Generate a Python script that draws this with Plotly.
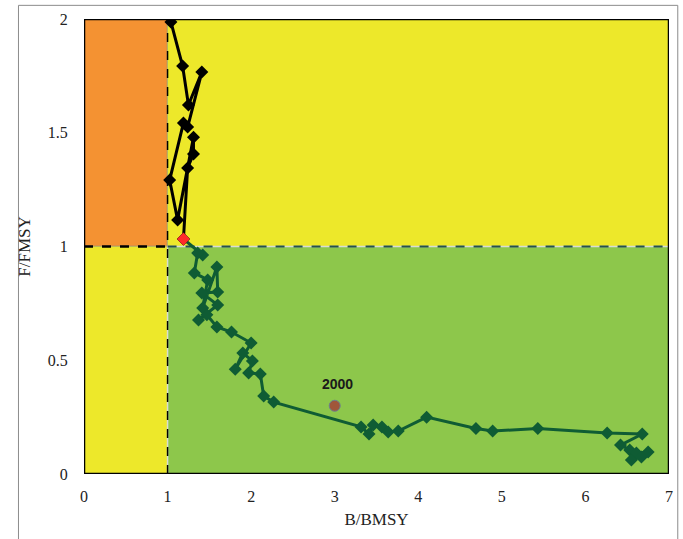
import plotly.graph_objects as go

# Trajectory above F/FMSY = 1 (black)
black_b = [1.04, 1.18, 1.25, 1.41, 1.24, 1.19, 1.025, 1.12, 1.31, 1.31, 1.24, 1.19]
black_f = [1.987, 1.793, 1.622, 1.767, 1.525, 1.543, 1.292, 1.117, 1.48, 1.407, 1.345, 1.033]

# Trajectory below F/FMSY = 1 (dark green)
green_b = [1.19, 1.42, 1.36, 1.32, 1.48, 1.42, 1.59, 1.60, 1.41, 1.60, 1.37, 1.47, 1.59,
           1.765, 2.00, 1.81, 1.90, 2.015, 1.97, 2.11, 2.15, 2.27, 3.315, 3.41, 3.46,
           3.565, 3.64, 3.76, 4.10, 4.69, 4.89, 5.43, 6.26, 6.68, 6.42, 6.53, 6.61,
           6.75, 6.67, 6.55]
green_f = [1.033, 0.963, 0.971, 0.884, 0.853, 0.73, 0.91, 0.80, 0.796, 0.743, 0.677, 0.70, 0.646,
           0.624, 0.576, 0.46, 0.532, 0.497, 0.444, 0.44, 0.343, 0.316, 0.207, 0.176, 0.215,
           0.207, 0.185, 0.189, 0.25, 0.20, 0.189, 0.20, 0.18, 0.176, 0.127, 0.105, 0.092,
           0.097, 0.075, 0.062]

# Current point (red) and reference year point
current_b = [1.19]
current_f = [1.033]
ref_b = [3.0]
ref_f = [0.30]
ref_label = ["2000"]

x_ticks = [0, 1, 2, 3, 4, 5, 6, 7]
y_ticks = [0, 0.5, 1, 1.5, 2]
y_tick_text = ["0", "0.5", "1", "1.5", "2"]

ORANGE = "#F49232"
YELLOW = "#EDE82A"
GREEN = "#8DC74B"
DKGREEN = "#0F5C34"

fig = go.Figure()

fig.add_trace(go.Scatter(x=green_b, y=green_f, mode="lines+markers",
                         line=dict(color=DKGREEN, width=3),
                         marker=dict(symbol="diamond", size=10, color=DKGREEN),
                         showlegend=False, hoverinfo="x+y"))
fig.add_trace(go.Scatter(x=black_b, y=black_f, mode="lines+markers",
                         line=dict(color="black", width=3),
                         marker=dict(symbol="diamond", size=10, color="black"),
                         showlegend=False, hoverinfo="x+y"))
fig.add_trace(go.Scatter(x=current_b, y=current_f, mode="markers",
                         marker=dict(symbol="diamond", size=10, color="#FF2A2A"),
                         showlegend=False, hoverinfo="x+y"))
fig.add_trace(go.Scatter(x=ref_b, y=ref_f, mode="markers",
                         marker=dict(symbol="circle", size=11, color="#A0573A",
                                     line=dict(color="#6b7f8f", width=1)),
                         showlegend=False, hoverinfo="x+y"))

fig.add_annotation(x=ref_b[0], y=ref_f[0], text="<b>" + ref_label[0] + "</b>",
                   showarrow=False, yshift=22, xshift=3,
                   font=dict(family="Liberation Sans", size=14, color="#1a1a1a"))

shapes = [
    dict(type="rect", xref="x", yref="y", x0=0, x1=1, y0=1, y1=2, fillcolor=ORANGE,
         line=dict(color="#8a8a8a", width=1.5), layer="below"),
    dict(type="rect", xref="x", yref="y", x0=0, x1=1, y0=0, y1=1, fillcolor=YELLOW,
         line=dict(width=0), layer="below"),
    dict(type="rect", xref="x", yref="y", x0=1, x1=7, y0=1, y1=2, fillcolor=YELLOW,
         line=dict(width=0), layer="below"),
    dict(type="rect", xref="x", yref="y", x0=1, x1=7, y0=0, y1=1, fillcolor=GREEN,
         line=dict(color="#d8dcd8", width=1.5), layer="below"),
    # reference lines
    dict(type="line", xref="x", yref="y", x0=1, x1=7, y0=1, y1=1,
         line=dict(color="#24504f", width=2, dash="dash"), layer="below"),
    dict(type="line", xref="x", yref="y", x0=0, x1=1, y0=1, y1=1,
         line=dict(color="black", width=2.5, dash="dash"), layer="below"),
    dict(type="line", xref="x", yref="y", x0=1, x1=1, y0=0, y1=2,
         line=dict(color="black", width=1.5, dash="dash"), layer="below"),
    # plot frame
    dict(type="rect", xref="x", yref="y", x0=0, x1=7, y0=0, y1=2,
         line=dict(color="black", width=2.5), layer="above"),
    # outer chart border
    dict(type="rect", xref="paper", yref="paper", x0=-0.112, x1=1.015, y0=-0.145, y1=1.03,
         line=dict(color="#8c8c8c", width=1), layer="above"),
]

fig.update_layout(
    width=683, height=539,
    margin=dict(l=84, r=10, t=19, b=65),
    paper_bgcolor="white", plot_bgcolor="white",
    shapes=shapes,
    font=dict(family="Liberation Serif", size=16, color="#222222"),
    xaxis=dict(range=[0, 7], tickvals=x_ticks, showgrid=False, zeroline=False,
               showline=False, ticks="outside", ticklen=8, tickcolor="rgba(0,0,0,0)",
               title=dict(text="B/BMSY", standoff=8, font=dict(size=17))),
    yaxis=dict(range=[0, 2], tickvals=y_ticks, ticktext=y_tick_text, showgrid=False,
               zeroline=False, showline=False, ticks="outside", ticklen=12,
               tickcolor="rgba(0,0,0,0)",
               title=dict(text="F/FMSY", standoff=12, font=dict(size=17))),
)

fig.write_html("out.html")
